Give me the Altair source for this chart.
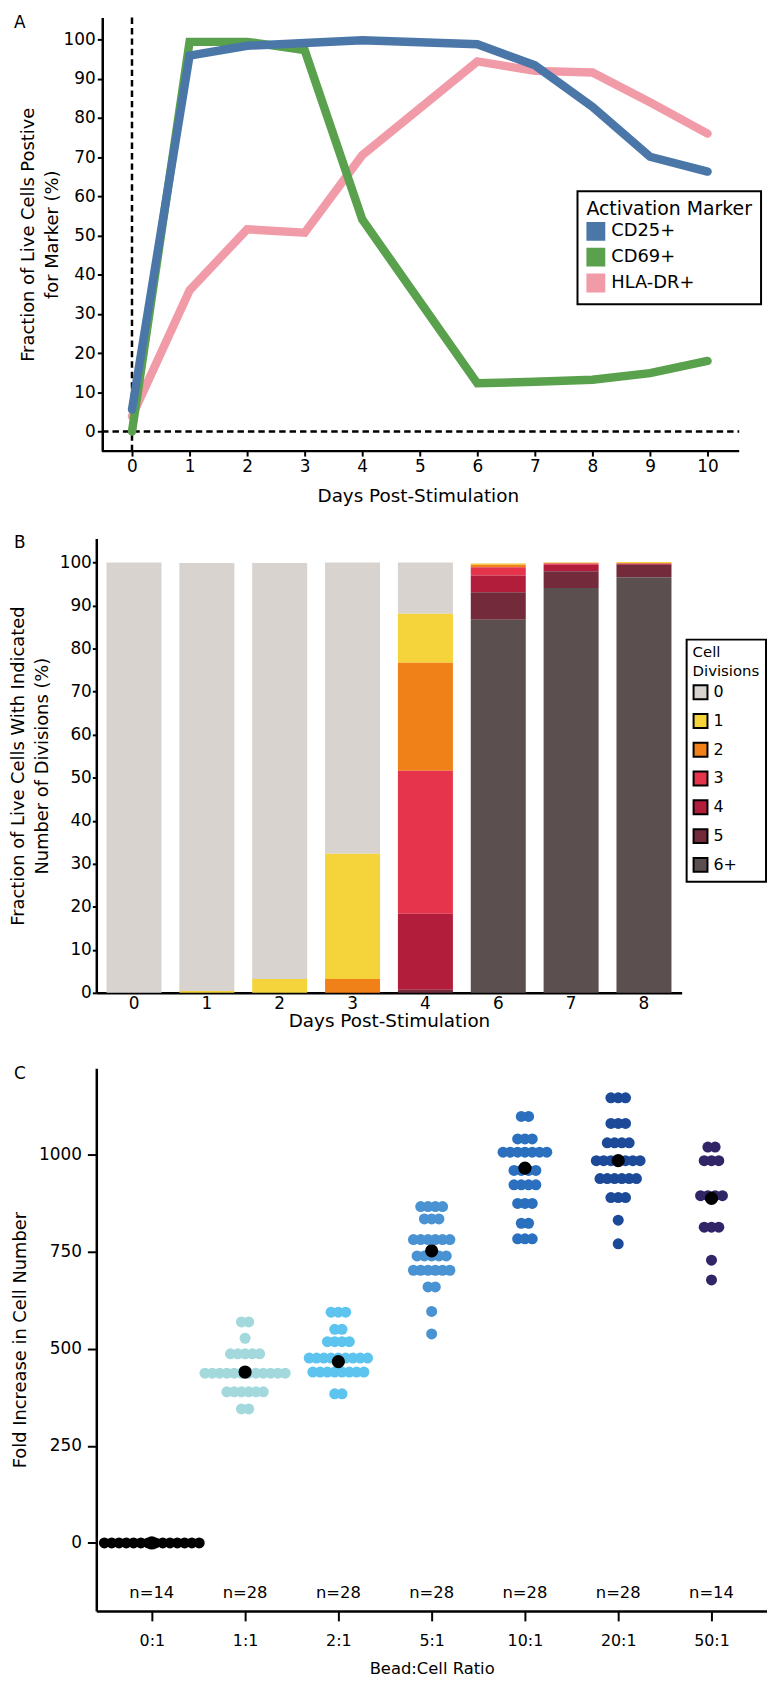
import json
import altair as alt
import pandas as pd

FONT = "DejaVu Sans"

# ---------------- Panel A data ----------------
days_a = [0, 1, 2, 3, 4, 6, 7, 8, 9, 10]
cd25 = [5.6, 95.9, 98.4, 99.1, 99.8, 98.8, 93.4, 82.8, 70.1, 66.3]
cd69 = [0.0, 99.4, 99.4, 97.3, 54.1, 12.3, 12.7, 13.2, 14.9, 18.0]
hladr = [3.9, 36.0, 51.6, 50.7, 70.5, 94.4, 92.0, 91.6, 84.0, 76.0]
markers = ["CD25+", "CD69+", "HLA-DR+"]
marker_colors = ["#4a77a8", "#59a14c", "#f29ba8"]
a_x_ticks = list(range(0, 11))
a_y_ticks = list(range(0, 101, 10))
a_x_domain = [-0.62, 10.55]
a_axis_span = [-0.52, 10.55]
a_y_domain = [-5, 105.6]

# ---------------- Panel B data ----------------
days_b = ["0", "1", "2", "3", "4", "6", "7", "8"]
divisions = ["0", "1", "2", "3", "4", "5", "6+"]
div_colors = ["#d9d3cf", "#f5d33b", "#f08119", "#e5344b", "#b21d3c", "#732b3b", "#5c4f4f"]
div0 = [100.0, 99.5, 96.7, 67.7, 11.9, 0.1, 0.1, 0.0]
div1 = [0.0, 0.4, 3.2, 29.1, 11.4, 0.3, 0.1, 0.2]
div2 = [0.0, 0.0, 0.0, 3.2, 25.1, 0.6, 0.1, 0.1]
div3 = [0.0, 0.0, 0.0, 0.0, 33.2, 1.9, 0.3, 0.1]
div4 = [0.0, 0.0, 0.0, 0.0, 17.7, 3.9, 1.5, 0.2]
div5 = [0.0, 0.0, 0.0, 0.0, 0.7, 6.4, 3.9, 2.9]
div6 = [0.0, 0.0, 0.0, 0.0, 0.0, 86.7, 94.1, 96.6]
b_y_ticks = list(range(0, 101, 10))

# ---------------- Panel C data ----------------
ratios = ["0:1", "1:1", "2:1", "5:1", "10:1", "20:1", "50:1"]
ratio_colors = ["#000000", "#a3d9dc", "#5cc4ee", "#4a93d2", "#2b70bf", "#1c4a99", "#322567"]
vals_0_1 = [0]
cnts_0_1 = [14]
vals_1_1 = [569, 527, 487, 437, 389, 345]
cnts_1_1 = [2, 1, 5, 12, 6, 2]
vals_2_1 = [594, 550, 518, 476, 440, 384]
cnts_2_1 = [3, 2, 4, 9, 8, 2]
vals_5_1 = [866, 834, 781, 739, 702, 659, 596, 538]
cnts_5_1 = [4, 3, 6, 5, 6, 2, 1, 1]
vals_10_1 = [1098, 1040, 1006, 959, 922, 874, 823, 783]
cnts_10_1 = [2, 3, 7, 4, 4, 3, 2, 3]
vals_20_1 = [1146, 1080, 1030, 984, 938, 889, 831, 770]
cnts_20_1 = [3, 3, 4, 7, 6, 3, 1, 1]
vals_50_1 = [1019, 984, 894, 813, 728, 677]
cnts_50_1 = [2, 3, 4, 3, 1, 1]
group_means = [0, 440, 467, 752, 965, 984, 887]
c_y_ticks = [0, 250, 500, 750, 1000]

# ================= Panel A =================
df_a = pd.DataFrame(
    [{"day": d, "pct": v, "marker": m}
     for m, vals in zip(markers, [cd25, cd69, hladr])
     for d, v in zip(days_a, vals)]
)

xa = alt.X("day:Q", scale=alt.Scale(domain=a_x_domain, nice=False, zero=False),
           axis=alt.Axis(values=a_x_ticks, title="Days Post-Stimulation", tickSize=5,
                         labelPadding=3, titlePadding=12, labelFontSize=17,
                         titleFontSize=18.5, format="d", domain=False))
ya = alt.Y("pct:Q", scale=alt.Scale(domain=a_y_domain, nice=False, zero=False),
           axis=alt.Axis(values=a_y_ticks,
                         title=["Fraction of Live Cells Postive", "for Marker (%)"],
                         tickSize=5, labelPadding=2, titlePadding=2, labelFontSize=17,
                         titleFontSize=18, titleLineHeight=24, offset=-6))

# x axis line (starts at the y axis)
axis_line_a = alt.Chart(pd.DataFrame({"pct": [a_y_domain[0]]})).mark_rule(
    color="black", strokeWidth=2.5).encode(
    y=ya, x=alt.datum(a_axis_span[0]), x2=alt.datum(a_axis_span[1]))
rule_v = alt.Chart(pd.DataFrame({"day": [0]})).mark_rule(
    color="black", strokeWidth=2.5, strokeDash=[6.5, 4]).encode(x=xa)
rule_h = alt.Chart(pd.DataFrame({"pct": [0]})).mark_rule(
    color="black", strokeWidth=2.5, strokeDash=[6.5, 4]).encode(
    y=ya, x=alt.datum(a_axis_span[0]), x2=alt.datum(a_axis_span[1]))

key_a = alt.Chart(df_a).mark_square(size=16, opacity=1).encode(
    x=xa, y=ya,
    fill=alt.Fill("marker:N", scale=alt.Scale(domain=markers, range=marker_colors),
                  legend=alt.Legend(title="Activation Marker", orient="none",
                                    legendX=485, legendY=175, symbolType="square",
                                    symbolSize=289, symbolStrokeColor="black",
                                    symbolStrokeWidth=2, strokeColor="black",
                                    padding=9, titleFontSize=19, labelFontSize=18,
                                    rowPadding=1, titlePadding=3, labelOffset=6)))

line_layers = []
for m in ["HLA-DR+", "CD69+", "CD25+"]:
    line_layers.append(
        alt.Chart(df_a).transform_filter(alt.datum.marker == m)
        .mark_line(strokeWidth=8.5, strokeCap="round", strokeJoin="miter")
        .encode(x=xa, y=ya,
                stroke=alt.Stroke("marker:N",
                                  scale=alt.Scale(domain=markers, range=marker_colors),
                                  legend=None))
    )

lab_a = alt.Chart(pd.DataFrame({"t": ["A"]})).mark_text(
    align="left", baseline="top", font=FONT, fontSize=17, color="black").encode(
    text="t:N", x=alt.value(-83), y=alt.value(-2))

chart_a = alt.layer(axis_line_a, rule_v, rule_h, key_a, *line_layers, lab_a).properties(
    width=648, height=437)

# ================= Panel B =================
div_lists = [div0, div1, div2, div3, div4, div5, div6]
df_b = pd.DataFrame(
    [{"day": d, "div": dn, "rank": di, "pct": v}
     for di, (dn, vals) in enumerate(zip(divisions, div_lists))
     for d, v in zip(days_b, vals)]
)

bars = alt.Chart(df_b).mark_bar().encode(
    x=alt.X("day:N", sort=days_b,
            scale=alt.Scale(paddingInner=0.245, paddingOuter=0.14),
            axis=alt.Axis(title="Days Post-Stimulation", labelAngle=0, ticks=False,
                          tickSize=0, labelPadding=3, titlePadding=0,
                          labelFontSize=17, titleFontSize=18.5)),
    y=alt.Y("pct:Q", stack="zero", scale=alt.Scale(domain=[0, 105.6], nice=False),
            axis=alt.Axis(values=b_y_ticks,
                          title=["Fraction of Live Cells With Indicated",
                                 "Number of Divisions (%)"],
                          tickSize=4, labelPadding=1, titlePadding=7.5,
                          labelFontSize=17, titleFontSize=18, titleLineHeight=24)),
    color=alt.Color("div:N", sort=divisions,
                    scale=alt.Scale(domain=divisions, range=div_colors),
                    legend=alt.Legend(title=["Cell", "Divisions"], orient="none",
                                      legendX=595, legendY=102, symbolType="square",
                                      symbolSize=196, symbolStrokeColor="black",
                                      symbolStrokeWidth=2, strokeColor="black",
                                      padding=6, titleFontSize=15, labelFontSize=16,
                                      titleLineHeight=19, rowPadding=7, titlePadding=5,
                                      labelOffset=5)),
    order=alt.Order("rank:Q", sort="descending"),
)

lab_b = alt.Chart(pd.DataFrame({"t": ["B"]})).mark_text(
    align="left", baseline="top", font=FONT, fontSize=17, color="black").encode(
    text="t:N", x=alt.value(-83), y=alt.value(-3))

chart_b = alt.layer(bars, lab_b).properties(width=590, height=458)

# ================= Panel C =================
C_WIDTH = 676
C_PAD = 0.595
x_step = C_WIDTH / (len(ratios) - 1 + 2 * C_PAD)
dot_step = 7.35 / x_step

c_vals = [vals_0_1, vals_1_1, vals_2_1, vals_5_1, vals_10_1, vals_20_1, vals_50_1]
c_cnts = [cnts_0_1, cnts_1_1, cnts_2_1, cnts_5_1, cnts_10_1, cnts_20_1, cnts_50_1]

rows = []
for gi, (g, vals, cnts) in enumerate(zip(ratios, c_vals, c_cnts)):
    for v, n in zip(vals, cnts):
        for i in range(n):
            rows.append({"xpos": gi + (i - (n - 1) / 2) * dot_step, "fold": v, "ratio": g})
df_c = pd.DataFrame(rows)
df_m = pd.DataFrame({"xpos": list(range(len(ratios))), "fold": group_means})
df_n = pd.DataFrame({"xpos": list(range(len(ratios))),
                     "label": ["n=%d" % sum(c) for c in c_cnts]})

label_expr = json.dumps(ratios) + "[datum.value]"
xc = alt.X("xpos:Q", scale=alt.Scale(domain=[-C_PAD, len(ratios) - 1 + C_PAD], nice=False, zero=False),
           axis=alt.Axis(values=list(range(len(ratios))), labelExpr=label_expr, tickSize=10,
                         labelPadding=12, title="Bead:Cell Ratio", titlePadding=12,
                         labelFontSize=16, titleFontSize=16.5))
yc = alt.Y("fold:Q", scale=alt.Scale(domain=[-175, 1222], nice=False, zero=False),
           axis=alt.Axis(values=c_y_ticks, tickSize=9, labelPadding=6, titlePadding=9,
                         title="Fold Increase in Cell Number", labelFontSize=17,
                         titleFontSize=18, format="d"))

dots = alt.Chart(df_c).mark_circle(size=123, opacity=1).encode(
    x=xc, y=yc,
    color=alt.Color("ratio:N", scale=alt.Scale(domain=ratios, range=ratio_colors), legend=None))
means = alt.Chart(df_m).mark_circle(size=177, opacity=1, color="black").encode(x=xc, y=yc)
nlab = alt.Chart(df_n).mark_text(font=FONT, fontSize=16.5, color="black", baseline="middle").encode(
    x=xc, y=alt.datum(-129), text="label:N")
# invisible spacer keeps the gap above panel C, the visible letter sits lower
spacer_c = alt.Chart(pd.DataFrame({"t": ["C"]})).mark_text(
    align="left", baseline="top", font=FONT, fontSize=17, opacity=0).encode(
    text="t:N", x=alt.value(-83), y=alt.value(-7.7))
lab_c = alt.Chart(pd.DataFrame({"t": ["C"]})).mark_text(
    align="left", baseline="top", font=FONT, fontSize=17, color="black").encode(
    text="t:N", x=alt.value(-83), y=alt.value(-2))

chart_c = alt.layer(dots, means, nlab, spacer_c, lab_c).properties(width=C_WIDTH, height=547)

# ================= Combine =================
chart = (
    alt.vconcat(chart_a, chart_b, chart_c, spacing=29)
    .resolve_scale(color="independent", fill="independent", stroke="independent")
    .resolve_legend(color="independent", fill="independent")
    .properties(padding={"left": 2, "top": 0, "right": 0, "bottom": 0}, background="white")
    .configure(font=FONT)
    .configure_view(stroke=None)
    .configure_axis(domainColor="black", domainWidth=2.5, tickColor="black", tickWidth=2,
                    labelColor="black", titleColor="black", grid=False,
                    titleFontWeight="normal", labelFont=FONT, titleFont=FONT,
                    labelOverlap=False, labelFlush=False)
    .configure_legend(labelFont=FONT, titleFont=FONT, titleFontWeight="normal",
                      labelColor="black", titleColor="black", strokeWidth=2)
)

chart.save("out.html", embed_options={"renderer": "svg", "actions": False})
